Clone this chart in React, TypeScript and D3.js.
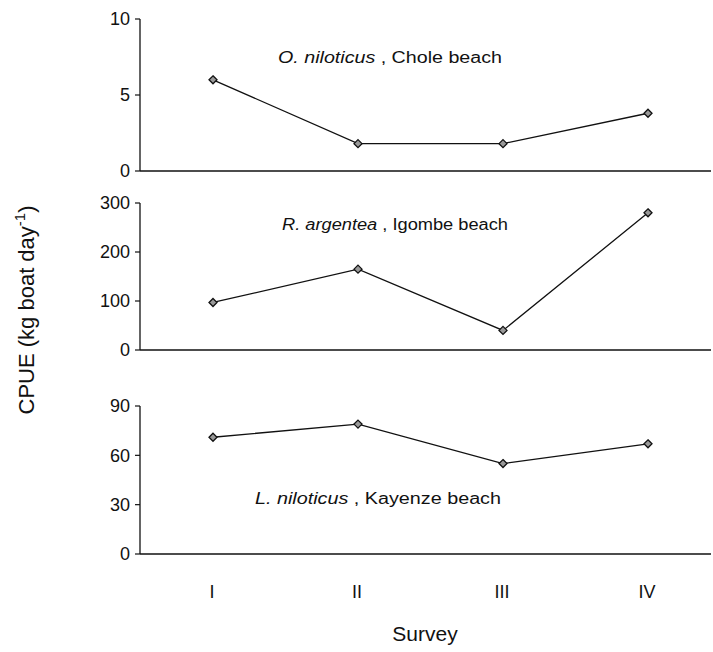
import React from "react";
import * as d3 from "d3";

const surveys = ["I", "II", "III", "IV"];
const oNiloticus = [6.0, 1.8, 1.8, 3.8];
const rArgentea = [97, 165, 40, 280];
const lNiloticus = [71, 79, 55, 67];
const ticks1 = [0, 5, 10];
const ticks2 = [0, 100, 200, 300];
const ticks3 = [0, 30, 60, 90];

const W = 713;
const H = 652;
const axisX = 140;
const rightX = 711;

const x = d3.scalePoint<string>().domain(surveys).range([213, 648]);

const panels = [
  { values: oNiloticus, ticks: ticks1, max: 10, top: 19, bottom: 171, species: "O. niloticus", place: " , Chole beach", lx: 278, ly: 63, len: 224 },
  { values: rArgentea, ticks: ticks2, max: 300, top: 203, bottom: 350, species: "R. argentea", place: " , Igombe beach", lx: 282, ly: 230, len: 226 },
  { values: lNiloticus, ticks: ticks3, max: 90, top: 406, bottom: 554, species: "L. niloticus", place: " , Kayenze beach", lx: 255, ly: 504, len: 246 },
];

const font = "Liberation Sans, Arial, sans-serif";

export default function App() {
  return (
    <svg width={W} height={H} style={{ position: "absolute", left: 0, top: 0, background: "#fff" }} fontFamily={font}>
      <rect width={W} height={H} fill="#fff" />
      {panels.map((p, i) => {
        const y = d3.scaleLinear().domain([0, p.max]).range([p.bottom, p.top]);
        const line = d3
          .line<number>()
          .x((_, j) => x(surveys[j]) as number)
          .y((d) => y(d));
        return (
          <g key={i}>
            <line x1={axisX} x2={axisX} y1={y(p.max)} y2={y(0)} stroke="#111" strokeWidth={1.3} />
            <line x1={axisX} x2={rightX} y1={y(0)} y2={y(0)} stroke="#111" strokeWidth={1.4} />
            {p.ticks.map((t) => (
              <g key={t}>
                <line x1={axisX - 5} x2={axisX} y1={y(t)} y2={y(t)} stroke="#111" strokeWidth={1.2} />
                <text x={axisX - 10} y={y(t)} dy="0.36em" textAnchor="end" fontSize={18} fill="#111">
                  {t}
                </text>
              </g>
            ))}
            <path d={line(p.values) || ""} fill="none" stroke="#111" strokeWidth={1.3} />
            {p.values.map((v, j) => {
              const cx = x(surveys[j]) as number;
              const cy = y(v);
              const r = 4;
              return (
                <path
                  key={j}
                  d={`M${cx},${cy - r}L${cx + r},${cy}L${cx},${cy + r}L${cx - r},${cy}Z`}
                  fill="#999"
                  stroke="#111"
                  strokeWidth={1.3}
                />
              );
            })}
            <text x={p.lx} y={p.ly} fontSize={16} fill="#111" textLength={p.len} lengthAdjust="spacingAndGlyphs">
              <tspan fontStyle="italic">{p.species}</tspan>
              <tspan>{p.place}</tspan>
            </text>
          </g>
        );
      })}
      {surveys.map((s) => (
        <text key={s} x={(x(s) as number) - 1} y={598} textAnchor="middle" fontSize={18} fill="#111">
          {s}
        </text>
      ))}
      <text x={425} y={641} textAnchor="middle" fontSize={21} fill="#111">
        Survey
      </text>
      <text transform="translate(34,310) rotate(-90)" textAnchor="middle" fontSize={22} fill="#111">
        CPUE (kg boat day
        <tspan dy={-9} fontSize={15}>-1</tspan>
        <tspan dy={9}>)</tspan>
      </text>
    </svg>
  );
}
